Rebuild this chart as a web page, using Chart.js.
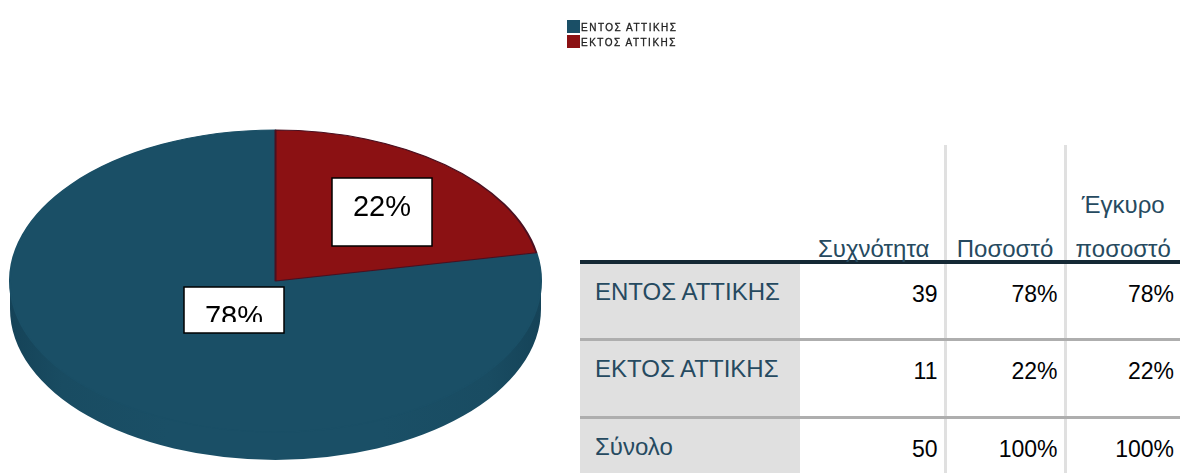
<!DOCTYPE html>
<html>
<head>
<meta charset="utf-8">
<script src="https://cdn.jsdelivr.net/npm/chart.js@4/dist/chart.umd.min.js"></script>
<style>
html, body { margin: 0; padding: 0; background: #fff; overflow: hidden; }
body { width: 1180px; height: 473px; position: relative; font-family: "Liberation Sans", Arial, sans-serif; }
#pie { position: absolute; left: 0; top: 0; }
#legend { position: absolute; left: 567px; top: 20px; filter: blur(0.7px); font-size: 10px; line-height: 15px; color: #222; }
#legend div { white-space: nowrap; height: 15px; }
#legend i { display: inline-block; width: 13px; height: 13px; vertical-align: -2px; margin-right: 1px; }
#legend span { letter-spacing: 1.5px; -webkit-text-stroke: 0.3px #222; }
#freq { position: absolute; left: 580px; top: 145px; width: 600px; height: 328px; border-collapse: collapse; table-layout: fixed; font-size: 23px; }
#freq th { font-weight: normal; font-size: 24px; color: #264a60; vertical-align: bottom; text-align: center; line-height: 44px; padding: 0; border-bottom: 4px solid #152935; white-space: nowrap; }
#freq th span { position: relative; top: 11px; }
#freq th:nth-child(2) span { left: 2px; }
#freq td { vertical-align: top; padding-top: 17px; text-align: right; color: #010205; padding-right: 6px; border-bottom: 3px solid #aeaeae; }
#freq td.name { text-align: left; font-size: 24px; padding-top: 14px; color: #264a60; background: #e0e0e0; padding-left: 15px; padding-right: 0; white-space: nowrap; }
#freq tr:last-child td { border-bottom: none; }
#freq .v { border-left: 3px solid #e0e0e0; }
</style>
</head>
<body>
<canvas id="pie" width="570" height="473"></canvas>
<div id="legend"></div>
<table id="freq"></table>
<script>
const categories = ['ΕΝΤΟΣ ΑΤΤΙΚΗΣ', 'ΕΚΤΟΣ ΑΤΤΙΚΗΣ'];
const counts = [39, 11];
const percentLabels = ['78%', '22%'];
const sliceColors = ['#1a4f66', '#8b1113'];
const sliceEdges = ['#1a4f66', '#4a1020'];

const headerLabels = ['', 'Συχνότητα', 'Ποσοστό', 'Έγκυρο<br>ποσοστό'];
const rowNames = ['ΕΝΤΟΣ ΑΤΤΙΚΗΣ', 'ΕΚΤΟΣ ΑΤΤΙΚΗΣ', 'Σύνολο'];
const rowCounts = ['39', '11', '50'];
const rowPercent = ['78%', '22%', '100%'];
const rowValid = ['78%', '22%', '100%'];

/* legend */
document.getElementById('legend').innerHTML = categories.map(function(name, i) {
    return '<div><i style="background:' + sliceColors[i] + '"></i><span>' + name + '</span></div>';
}).join('');

/* table */
let html = '<colgroup><col style="width:220px"><col style="width:145px"><col style="width:120px"><col style="width:115px"></colgroup>';
html += '<tr style="height:117px">' + headerLabels.map(function(h, i) {
    return '<th' + (i > 1 ? ' class="v"' : '') + '><span>' + h + '</span></th>';
}).join('') + '</tr>';
const rowHeights = [77, 78, 56];
rowNames.forEach(function(name, i) {
    html += '<tr style="height:' + rowHeights[i] + 'px"><td class="name">' + name + '</td><td>' + rowCounts[i] +
        '</td><td class="v">' + rowPercent[i] + '</td><td class="v">' + rowValid[i] + '</td></tr>';
});
document.getElementById('freq').innerHTML = html;

/* squashes the round pie into the tilted ellipse and puts the rim under it */
const pieCx = 275.5, pieCy = 281, pieRx = 265.5, pieRy = 151, rimDepth = 28;

const tiltPlugin = {
    id: 'tilt',
    beforeDatasetsDraw(chart) {
        const ctx = chart.ctx;
        const arc = chart.getDatasetMeta(0).data[0];
        ctx.save();
        const grad = ctx.createLinearGradient(pieCx - pieRx, 0, pieCx + pieRx, 0);
        grad.addColorStop(0, '#154358');
        grad.addColorStop(0.1, '#194c62');
        grad.addColorStop(0.3, '#1a4f66');
        grad.addColorStop(0.7, '#1a4f66');
        grad.addColorStop(0.9, '#194c62');
        grad.addColorStop(1, '#154358');
        ctx.fillStyle = grad;
        ctx.beginPath();
        ctx.rect(pieCx - pieRx, pieCy, pieRx * 2, rimDepth);
        ctx.ellipse(pieCx, pieCy + rimDepth, pieRx, pieRy, 0, 0, Math.PI * 2);
        ctx.fill();
        ctx.translate(pieCx, pieCy);
        ctx.scale(pieRx / arc.outerRadius, pieRy / arc.outerRadius);
        ctx.translate(-arc.x, -arc.y);
    },
    afterDatasetsDraw(chart) {
        chart.ctx.restore();
    }
};

/* white value boxes, the lower one cuts its text off like the original */
const valueBoxes = [
    { x: 184, y: 287, w: 100, h: 46, textY: 326, clipY: 322 },
    { x: 332, y: 178, w: 100, h: 68, textY: 216, clipY: 246 }
];
const boxPlugin = {
    id: 'boxes',
    afterDraw(chart) {
        const ctx = chart.ctx;
        percentLabels.forEach(function(label, i) {
            const b = valueBoxes[i];
            ctx.save();
            ctx.fillStyle = '#fff';
            ctx.strokeStyle = '#000';
            ctx.lineWidth = 1.5;
            ctx.fillRect(b.x, b.y, b.w, b.h);
            ctx.strokeRect(b.x, b.y, b.w, b.h);
            ctx.beginPath();
            ctx.rect(b.x, b.y, b.w, b.clipY - b.y);
            ctx.clip();
            ctx.fillStyle = '#000';
            ctx.font = '29px "Liberation Sans", Arial, sans-serif';
            ctx.textAlign = 'center';
            ctx.fillText(label, b.x + b.w / 2, b.textY);
            ctx.restore();
        });
    }
};

new Chart(document.getElementById('pie').getContext('2d'), {
    type: 'pie',
    data: {
        labels: categories,
        datasets: [{
            data: counts,
            backgroundColor: sliceColors,
            borderColor: sliceEdges,
            borderWidth: 1.5,
            clip: false
        }]
    },
    options: {
        responsive: false,
        animation: false,
        rotation: counts[1] / (counts[0] + counts[1]) * 360,
        radius: 200,
        plugins: { legend: { display: false }, tooltip: { enabled: false } }
    },
    plugins: [tiltPlugin, boxPlugin]
});
</script>
</body>
</html>
